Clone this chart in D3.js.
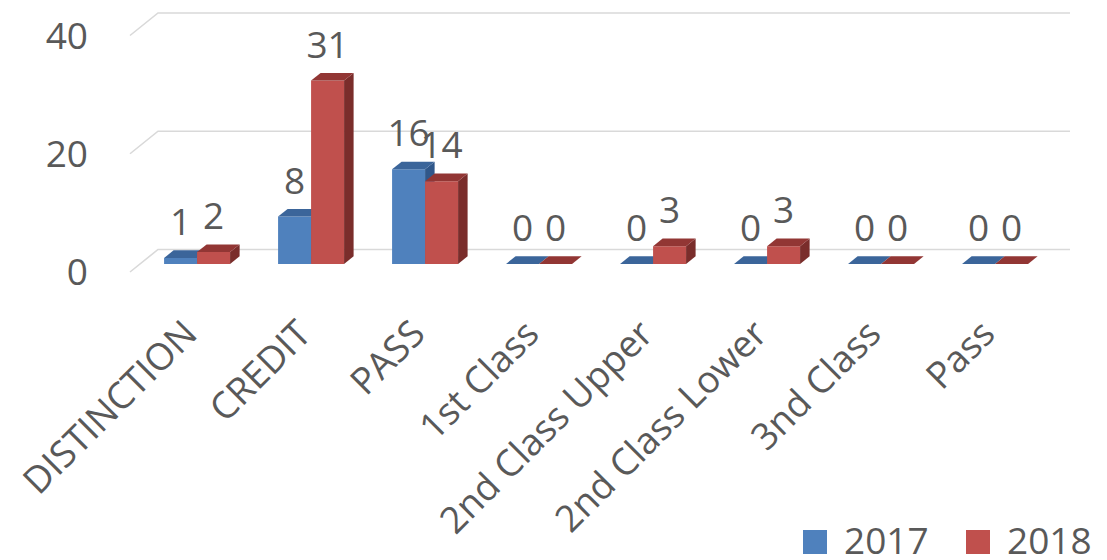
<!DOCTYPE html>
<html>
<head>
<meta charset="utf-8">
<script src="https://cdn.jsdelivr.net/npm/d3@7/dist/d3.min.js"></script>
<style>
  html, body { margin: 0; padding: 0; background: #fff; }
  svg text { font-family: "Open Sans", "Liberation Sans", sans-serif; fill: #595959; }
</style>
</head>
<body>
<svg id="chart" width="1107" height="560"></svg>
<script>
const categories = ["DISTINCTION", "CREDIT", "PASS", "1st Class", "2nd Class Upper", "2nd Class Lower", "3nd Class", "Pass"];
const seriesNames = ["2017", "2018"];
const values2017 = [1, 8, 16, 0, 0, 0, 0, 0];
const values2018 = [2, 31, 14, 0, 3, 3, 0, 0];
const yTicks = [0, 20, 40];

const colors = {
  "2017": { front: "#4F81BD", top: "#3B659A", side: "#30578A" },
  "2018": { front: "#C0504D", top: "#923634", side: "#7A2D2B" }
};

const svg = d3.select("#chart");
const FONT = 37;

// 3D projection settings
const floorY = 272, DX = 28, DY = -22.5;
const x0 = d3.scaleBand().domain(categories).range([130, 1042]).paddingInner(0).paddingOuter(0);
const x1 = d3.scaleBand().domain(seriesNames).range([24, 90]).padding(0);
const h = d3.scaleLinear().domain([0, 40]).range([0, 236.5]);
const proj = (x, v, z) => [x + z * DX, floorY + z * DY - h(v)];
const Z0 = 0.36, Z1 = 0.70;

// gridlines (left wall diagonal + back wall)
const xL = x0.range()[0], xR = x0.range()[1];
svg.append("g").selectAll("polyline").data(yTicks).join("polyline")
  .attr("points", t => [proj(xL, t, 0), proj(xL, t, 1), proj(xR, t, 1)].map(p => p.join(",")).join(" "))
  .attr("fill", "none").attr("stroke", "#D9D9D9").attr("stroke-width", 1.6);

// y tick labels
svg.append("g").selectAll("text").data(yTicks).join("text")
  .attr("x", 88).attr("y", t => proj(xL, t, 0)[1])
  .attr("dy", "0.36em").attr("text-anchor", "end")
  .attr("font-size", FONT).text(t => t);

// bars
const data = [];
categories.forEach((c, i) => {
  data.push({ c, s: "2017", v: values2017[i] });
  data.push({ c, s: "2018", v: values2018[i] });
});
const pts = arr => arr.map(p => p.join(",")).join(" ");
const gBars = svg.append("g");
data.forEach(d => {
  const xa = x0(d.c) + x1(d.s), xb = xa + x1.bandwidth();
  const col = colors[d.s];
  const g = gBars.append("g");
  // front
  g.append("polygon").attr("fill", col.front)
    .attr("points", pts([proj(xa, 0, Z0), proj(xb, 0, Z0), proj(xb, d.v, Z0), proj(xa, d.v, Z0)]));
  // side
  g.append("polygon").attr("fill", col.side)
    .attr("points", pts([proj(xb, 0, Z0), proj(xb, 0, Z1), proj(xb, d.v, Z1), proj(xb, d.v, Z0)]));
  // top
  g.append("polygon").attr("fill", col.top)
    .attr("points", pts([proj(xa, d.v, Z0), proj(xb, d.v, Z0), proj(xb, d.v, Z1), proj(xa, d.v, Z1)]));
});

// value labels
svg.append("g").selectAll("text").data(data).join("text")
  .attr("x", d => proj(x0(d.c) + x1(d.s) + x1.bandwidth() / 2, d.v, Z0)[0])
  .attr("y", d => proj(0, d.v, Z0)[1] - 23)
  .attr("text-anchor", "middle").attr("font-size", FONT)
  .text(d => d.v);

// category labels
svg.append("g").selectAll("text").data(categories).join("text")
  .attr("transform", c => {
    const cx = proj(x0(c) + x0.bandwidth() / 2, 0, Z0)[0] + 2;
    return `translate(${cx},336) rotate(-45)`;
  })
  .attr("text-anchor", "end").attr("font-size", FONT)
  .text(c => c);

// legend
const legend = svg.append("g");
const legendX = [803, 966];
seriesNames.forEach((s, i) => {
  legend.append("rect").attr("x", legendX[i]).attr("y", 530).attr("width", 24).attr("height", 24)
    .attr("fill", colors[s].front);
  legend.append("text").attr("x", legendX[i] + 41).attr("y", 554)
    .attr("font-size", FONT).text(s);
});
</script>
</body>
</html>
